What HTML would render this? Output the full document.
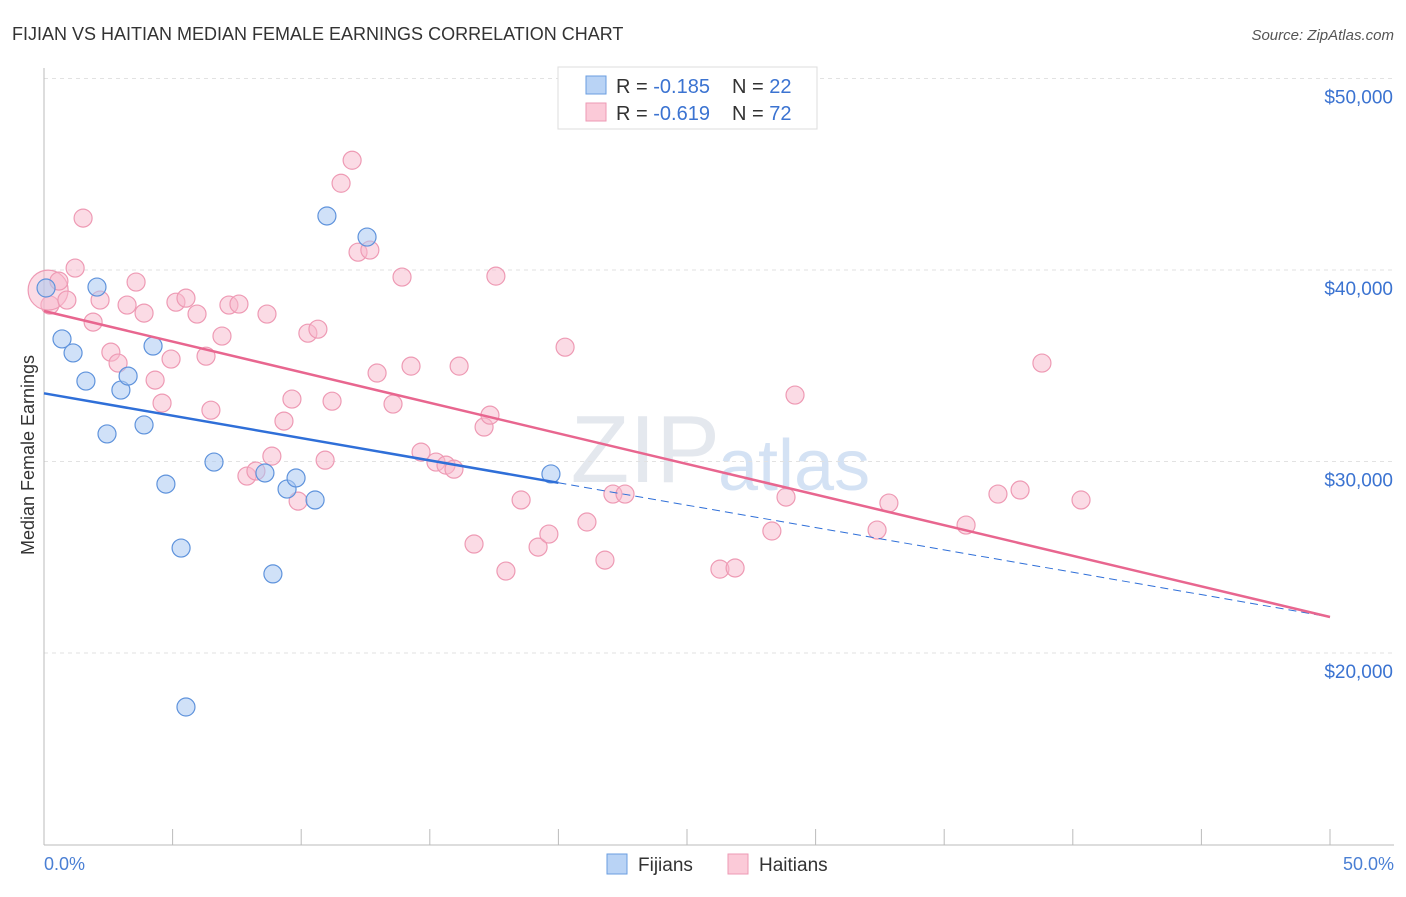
<!DOCTYPE html>
<html><head><meta charset="utf-8"><style>
body{margin:0;background:#fff;font-family:"Liberation Sans",sans-serif;}
svg text{font-family:"Liberation Sans",sans-serif;}
</style></head><body>
<svg id="chart" width="1406" height="892" viewBox="0 0 1406 892" xmlns="http://www.w3.org/2000/svg">
<text x="12" y="40" font-size="18" fill="#333">FIJIAN VS HAITIAN MEDIAN FEMALE EARNINGS CORRELATION CHART</text>
<text x="1394" y="40" font-size="15" fill="#555" text-anchor="end" font-style="italic">Source: ZipAtlas.com</text>
<text x="720" y="482" font-size="96" fill="#e4e8ee" text-anchor="end" font-family="Liberation Serif">ZIP</text>
<text x="718" y="490" font-size="72" fill="#d4e2f4">atlas</text>
<g id="grid"></g><g id="axes"></g><g id="marks"></g>
<text transform="translate(34,455) rotate(-90)" font-size="18" fill="#333" text-anchor="middle">Median Female Earnings</text>
<text x="44" y="870" font-size="18" fill="#4a7fd4">0.0%</text>
<text x="1394" y="870" font-size="18" fill="#4a7fd4" text-anchor="end">50.0%</text>
<g>
<rect x="558" y="67" width="259" height="62" fill="#fff" stroke="#ddd"/>
<rect x="586" y="76" width="20" height="18" fill="#b9d3f5" stroke="#6a9ee0"/>
<rect x="586" y="103" width="20" height="18" fill="#fbcad8" stroke="#ee9ab4"/>
<text x="616" y="93" font-size="20" fill="#333">R = <tspan fill="#3b73d1">-0.185</tspan><tspan x="732">N = </tspan><tspan fill="#3b73d1">22</tspan></text>
<text x="616" y="120" font-size="20" fill="#333">R = <tspan fill="#3b73d1">-0.619</tspan><tspan x="732">N = </tspan><tspan fill="#3b73d1">72</tspan></text>
</g>
<g>
<rect x="607" y="854" width="20" height="20" fill="#b9d3f5" stroke="#6a9ee0"/>
<text x="638" y="871" font-size="19" fill="#333">Fijians</text>
<rect x="728" y="854" width="20" height="20" fill="#fbcad8" stroke="#ee9ab4"/>
<text x="759" y="871" font-size="19" fill="#333">Haitians</text>
</g>
</svg>
<script>
const yTicks=[20000,30000,40000,50000];
const yTickLabels=["$20,000","$30,000","$40,000","$50,000"];
const fijX=[0.08,0.70,1.13,1.63,2.06,2.45,2.99,3.27,3.89,4.24,4.74,5.33,5.52,6.61,8.59,8.90,9.45,9.80,10.54,11.00,12.56,19.71];
const fijY=[39060,36400,35670,34200,39110,31440,33730,34460,31910,36030,28820,25480,17180,29970,29400,24130,28560,29140,27990,42820,41720,29350];
const haiX=[0.23,0.16,0.58,0.89,1.21,1.52,1.91,2.18,2.60,2.88,3.23,3.58,3.89,4.32,4.59,4.94,5.13,5.52,5.95,6.30,6.49,6.92,7.19,7.58,7.89,8.24,8.67,8.86,9.33,9.64,9.88,10.26,10.65,10.93,11.20,11.55,11.98,12.21,12.67,12.95,13.57,13.92,14.27,14.66,15.24,15.63,15.94,16.14,16.72,17.11,17.34,17.57,17.96,18.55,19.21,19.63,20.26,21.11,21.81,22.12,22.59,26.28,26.87,28.30,28.85,29.20,32.39,32.85,35.85,37.09,37.95,38.80,40.32];
const haiY=[38170,38950,39420,38430,40100,42710,37280,38430,35710,35140,38170,39370,37750,34250,33050,35350,38320,38530,37700,35500,32680,36550,38170,38220,29240,29500,37700,30280,32110,33260,27930,36700,36910,30070,33150,44530,45730,40930,41040,34620,33000,39630,34980,30490,29970,29810,29600,34980,25690,31800,32420,39680,24280,27990,25530,26210,35970,26840,24850,28300,28300,24380,24440,26370,28140,33470,26420,27830,26680,28300,28510,35140,27990];
const fijLine=[[0,33560],[50,21880]];
const haiLine=[[0,37860],[50,21880]];
const NS="http://www.w3.org/2000/svg";
const X=p=>44+p*25.72;
const Y=v=>653-(v-20000)*0.01915;
function mk(tag,attrs,parent){const e=document.createElementNS(NS,tag);for(const k in attrs)e.setAttribute(k,attrs[k]);parent.appendChild(e);return e;}
const grid=document.getElementById('grid'),axes=document.getElementById('axes'),marks=document.getElementById('marks');
yTicks.forEach((t,i)=>{
  const l=mk('line',{x1:44,x2:1394,y1:Y(t),y2:Y(t),stroke:'#e2e2e2','stroke-dasharray':'4,4'},grid);
  
  
  const tx=mk('text',{x:1393,y:Y(t)+25,'font-size':19,fill:'#3b73d1','text-anchor':'end'},axes);
  tx.textContent=yTickLabels[i];
  
  
});
const ya=mk('line',{x1:44,x2:44,y1:68,y2:845,stroke:'#bbb'},axes);


const xa=mk('line',{x1:44,x2:1394,y1:845,y2:845,stroke:'#bbb'},axes);


for(let i=0;i<=10;i++){const t=mk('line',{x1:X(i*5),x2:X(i*5),y1:829,y2:845,stroke:'#bbb'},axes);

}
haiX.forEach((x,i)=>{const c=mk('circle',{cx:X(x),cy:Y(haiY[i]),r:i==1?20:9,fill:'#f7b8cc','fill-opacity':0.5,stroke:'#ee9ab4','stroke-width':1.2},marks);

});
fijX.forEach((x,i)=>{const c=mk('circle',{cx:X(x),cy:Y(fijY[i]),r:9,fill:'#a9c8f2','fill-opacity':0.55,stroke:'#5f93dc','stroke-width':1.2},marks);

});
const fy=p=>fijLine[0][1]+(fijLine[1][1]-fijLine[0][1])*p/50;
const f1=mk('line',{x1:X(0),y1:Y(fy(0)),x2:X(20),y2:Y(fy(20)),stroke:'#2f6fd8','stroke-width':2.5},marks);


const f2=mk('line',{x1:X(20),y1:Y(fy(20)),x2:X(50),y2:Y(fy(50)),stroke:'#2f6fd8','stroke-width':1,'stroke-dasharray':'8,5'},marks);


const h1=mk('line',{x1:X(haiLine[0][0]),y1:Y(haiLine[0][1]),x2:X(haiLine[1][0]),y2:Y(haiLine[1][1]),stroke:'#e8668f','stroke-width':2.5},marks);


</script>
</body></html>
